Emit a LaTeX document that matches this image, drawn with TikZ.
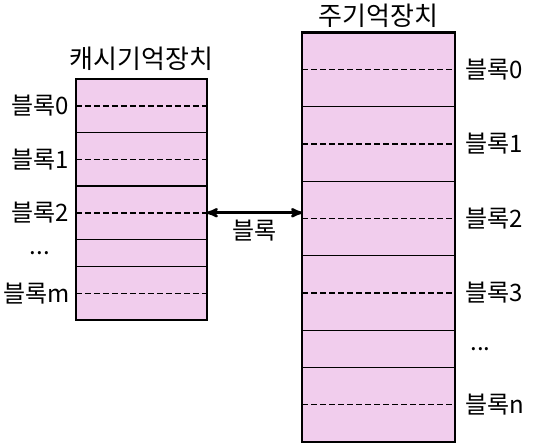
\documentclass[tikz,border=0pt]{standalone}
\usepackage{fontspec}
\setmainfont{Noto Sans CJK KR}
\usepackage{tikz}
\usetikzlibrary{positioning}
\usetikzlibrary{arrows}
\definecolor{mempink}{HTML}{F1CDED}
\tikzset{
cr/.style={
  rectangle,
  inner sep=0pt,
  outer sep=0pt,
  minimum width=131pt,
  minimum height=53.5pt,
  draw=black,
  line width=1.2pt,
  fill=mempink
  },
mr/.style={
  cr,
  minimum width=153pt,
  minimum height=74.5pt
  },
lbl/.style={
  inner sep=0pt,
  font=\fontsize{24}{28}\selectfont
  },
ttl/.style={
  inner sep=0pt,
  font=\fontsize{26}{30}\selectfont
  },
dl/.style={
  line width=1.5pt,
  dash pattern=on 6pt off 3pt
  }
}
\begin{document}
\begin{tikzpicture}[x=1pt,y=-1pt,>=stealth',semithick]
            \useasboundingbox (0,0) rectangle (537,445);
            % cache
            \node[cr] (c0) at (141.3,105.75) {};
            \node[cr] (c1) [below=0pt of c0] {};
            \node[cr] (c2) [below=0pt of c1] {};
            \node[cr,minimum height=27pt] (cd) [below=0pt of c2] {};
            \node[cr] (cm) [below=0pt of cd] {};
            \draw[line width=2.6pt] (c0.north west) rectangle (cm.south east);
            \node[ttl] (ct) [above=8pt of c0.north] {캐시기억장치};
            % main memory
            \node[mr] (m0) at (378.6,69.55) {};
            \node[mr] (m1) [below=0pt of m0] {};
            \node[mr] (m2) [below=0pt of m1] {};
            \node[mr] (m3) [below=0pt of m2] {};
            \node[mr,minimum height=37pt] (md) [below=0pt of m3] {};
            \node[mr] (mn) [below=0pt of md] {};
            \draw[line width=2.6pt] (m0.north west) rectangle (mn.south east);
            \node[ttl] (mt) [above=4pt of m0.north] {주기억장치};
            \foreach \r in {c0,c1,c2,cm,m0,m1,m2,m3,mn}
              \draw[dl] (\r.west) -- (\r.east);
            % labels
            \node[lbl] (lc0) [left=7pt of c0.west] {블록0};
            \node[lbl] (lc1) [left=7pt of c1.west] {블록1};
            \node[lbl] (lc2) [left=7pt of c2.west] {블록2};
            \node[lbl] (lcd) at (lc0 |- cd) {...};
            \node[lbl] (lcm) [left=6pt of cm.west] {블록m};
            \node[lbl] (lm0) [right=10pt of m0.east] {블록0};
            \node[lbl] (lm1) [right=10pt of m1.east] {블록1};
            \node[lbl] (lm2) [right=10pt of m2.east] {블록2};
            \node[lbl] (lm3) [right=10pt of m3.east] {블록3};
            \node[lbl] (lmd) [right=15pt of md.east] {...};
            \node[lbl] (lmn) [right=10pt of mn.east] {블록n};
            \draw[<->,line width=2.6pt] (c2.east) -- (c2.east -| m2.west)
              node[lbl,midway,below=6pt] {블록};
        \end{tikzpicture}
\end{document}
